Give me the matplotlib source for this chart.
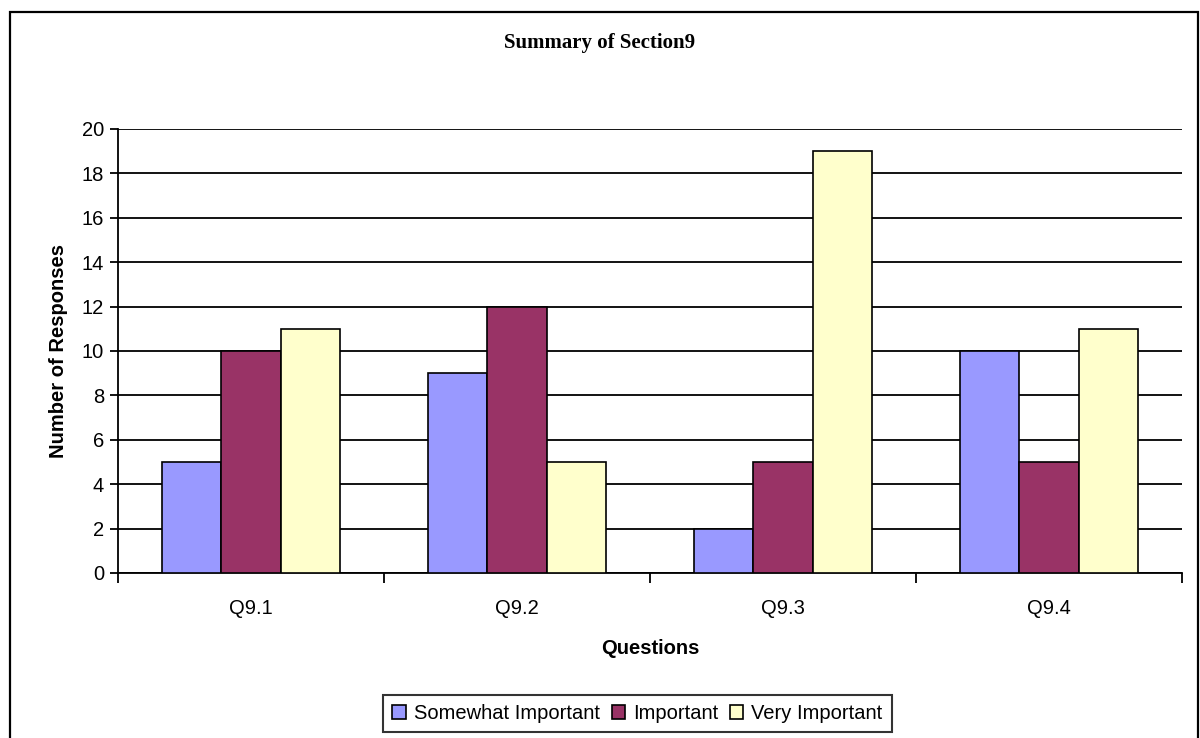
import matplotlib
matplotlib.use('Agg')
from matplotlib import pyplot as plt
from matplotlib.patches import Rectangle
import numpy as np

# data
questions = ['Q9.1', 'Q9.2', 'Q9.3', 'Q9.4']
somewhat = [5, 9, 2, 10]
important = [10, 12, 5, 5]
very = [11, 5, 19, 11]
series_names = ['Somewhat Important', 'Important', 'Very Important']
colors = ['#9999FF', '#993366', '#FFFFCC']

plt.rcParams['font.family'] = ['Liberation Sans', 'DejaVu Sans']

fig = plt.figure(figsize=(12, 7.38), dpi=100)
ax = fig.add_axes([118 / 1200, 1 - 573 / 738, (1182 - 118) / 1200, (573 - 129) / 738])

# outer chart border (bottom edge runs off the image)
fig.patches.append(Rectangle((10 / 1200, -0.02), 1188 / 1200, (738 - 12) / 738 + 0.02,
                             transform=fig.transFigure, fill=False, edgecolor='black', lw=1.6))

x = np.arange(len(questions))
w = 0.222
for i, vals in enumerate([somewhat, important, very]):
    ax.bar(x + (i - 1) * w, vals, w, color=colors[i], edgecolor='black', lw=1.2,
           label=series_names[i], zorder=3)

ax.set_xlim(-0.5, 3.5)
ax.set_ylim(0, 20)
ax.set_yticks(range(0, 21, 2))
ax.yaxis.grid(True, color='black', lw=1.3, zorder=0)
ax.set_axisbelow(True)
ax.spines['top'].set_visible(False)
ax.spines['right'].set_visible(False)
ax.spines['left'].set_linewidth(1.3)
ax.spines['bottom'].set_linewidth(1.3)

ax.set_xticks(x)
ax.set_xticklabels(questions)
ax.tick_params(axis='x', length=0, labelsize=14.5, pad=19)
ax.set_xticks(np.arange(-0.5, 4, 1), minor=True)
ax.tick_params(axis='x', which='minor', length=7, width=1.3, direction='out')
ax.tick_params(axis='y', length=6, width=1.3, labelsize=14.5, pad=4)

ax.set_xlabel('Questions', fontsize=14.5, fontweight='bold', labelpad=15)
ax.set_ylabel('Number of Responses', fontsize=14.5, fontweight='bold', labelpad=10)

fig.text(0.5, 1 - 43 / 738, 'Summary of Section9', ha='center', va='center',
         fontsize=15, fontweight='bold', family=['Liberation Serif', 'DejaVu Serif'])

leg = fig.legend(loc='center', bbox_to_anchor=(637.5 / 1200, 1 - 713.5 / 738), ncol=3,
                 fontsize=14.5, frameon=True, fancybox=False, edgecolor='black',
                 handlelength=0.65, handleheight=0.65, handletextpad=0.4, columnspacing=0.6,
                 borderpad=0.45, borderaxespad=0)
leg.get_frame().set_linewidth(1.5)

fig.savefig('out.png', dpi=100)
